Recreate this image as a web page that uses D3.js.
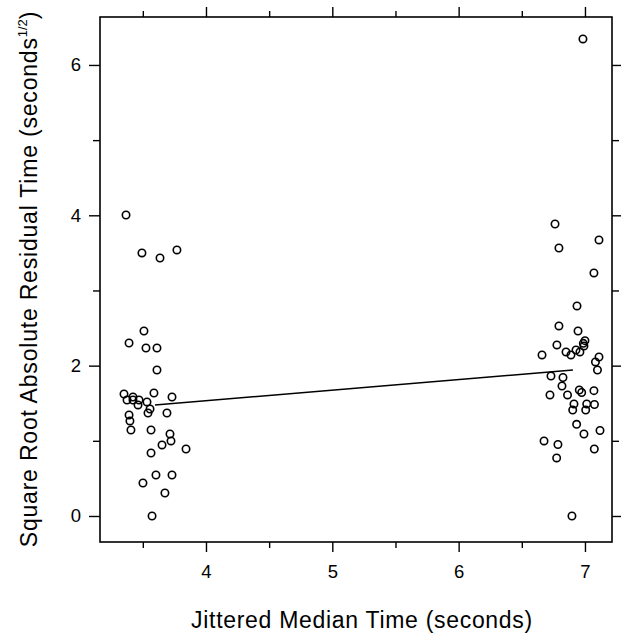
<!DOCTYPE html>
<html><head><meta charset="utf-8">
<script src="https://cdn.jsdelivr.net/npm/d3@7"></script>
<style>body{margin:0;background:#fff}svg{display:block}text{font-family:"Liberation Sans",Arial,sans-serif;fill:#000}</style>
</head><body>
<svg id="c" width="628" height="634"></svg>
<script>
const leftX = [3.367,3.493,3.636,3.770,3.509,3.391,3.525,3.612,3.612,3.588,3.731,3.351,3.375,3.422,3.422,3.470,3.462,3.533,3.557,3.541,3.691,3.391,3.398,3.406,3.565,3.715,3.723,3.652,3.842,3.565,3.604,3.731,3.501,3.675,3.573];
const leftY = [4.004,3.499,3.432,3.539,2.461,2.301,2.235,2.235,1.942,1.636,1.583,1.623,1.543,1.583,1.543,1.543,1.477,1.517,1.423,1.370,1.370,1.344,1.264,1.144,1.144,1.091,0.998,0.945,0.891,0.838,0.545,0.545,0.439,0.306,0.000];
const rightX = [6.984,6.763,7.111,6.794,7.071,6.937,6.794,6.945,7.000,6.987,6.992,6.778,6.660,6.850,6.889,6.929,6.960,7.111,7.083,7.099,6.731,6.826,6.818,6.723,6.862,6.955,6.974,7.071,6.913,6.903,7.014,7.006,7.075,6.934,7.119,6.992,6.676,6.786,7.074,6.776,6.897];
const rightY = [6.346,3.884,3.672,3.565,3.233,2.794,2.528,2.461,2.332,2.297,2.262,2.275,2.142,2.182,2.142,2.208,2.182,2.115,2.049,1.942,1.862,1.842,1.729,1.610,1.610,1.676,1.643,1.667,1.490,1.410,1.490,1.410,1.483,1.220,1.137,1.091,0.998,0.951,0.891,0.772,0.000];
const lineX = [3.596, 6.905];
const lineY = [1.477, 1.942];
const xTicks = [4,5,6,7];
const xMinor = [3.5,4.5,5.5,6.5];
const yTicks = [0,2,4,6];
const yMinor = [1,3,5];
const xTitle = "Jittered Median Time (seconds)";
const yTitle = "Square Root Absolute Residual Time (seconds";

const svg = d3.select("#c");
const L=100,R=612,T=17,B=542;
const x = d3.scaleLinear().domain([3.161,7.214]).range([L,R]);
const y = d3.scaleLinear().domain([-0.346,6.638]).range([B,T]);

svg.append("rect").attr("x",L).attr("y",T).attr("width",R-L).attr("height",B-T)
  .attr("fill","none").attr("stroke","#000").attr("stroke-width",1.6);

function axis(gen, ticks, size, tx, ty, labels){
  const g = svg.append("g").attr("transform",`translate(${tx},${ty})`)
    .call(gen.tickValues(ticks).tickSize(size).tickSizeOuter(0).tickFormat(labels?d3.format("d"):""));
  g.select(".domain").remove();
  g.selectAll(".tick line").attr("stroke","#000").attr("stroke-width",1.4);
  g.selectAll(".tick text").attr("font-size",18.5).attr("fill","#000");
  return g;
}
const bx = axis(d3.axisBottom(x), xTicks, 10, 0, B, true);
bx.selectAll(".tick text").attr("y",36).attr("dy",0);
axis(d3.axisBottom(x), xMinor, 6, 0, B, false);
axis(d3.axisTop(x), xTicks, 10, 0, T, false);
axis(d3.axisTop(x), xMinor, 6, 0, T, false);
const ly = axis(d3.axisLeft(y), yTicks, 11, L, 0, true);
ly.selectAll(".tick text").attr("x",-19);
axis(d3.axisLeft(y), yMinor, 7, L, 0, false);
axis(d3.axisRight(y), yTicks, 9, R, 0, false);
axis(d3.axisRight(y), yMinor, 7, R, 0, false);

const pts = leftX.map((v,i)=>[v,leftY[i]]).concat(rightX.map((v,i)=>[v,rightY[i]]));
svg.append("g").selectAll("circle").data(pts).join("circle")
  .attr("cx",d=>x(d[0])).attr("cy",d=>y(d[1])).attr("r",3.7)
  .attr("fill","none").attr("stroke","#000").attr("stroke-width",1.6);

svg.append("path").datum(lineX.map((v,i)=>[v,lineY[i]]))
  .attr("d",d3.line().x(d=>x(d[0])).y(d=>y(d[1])))
  .attr("stroke","#000").attr("stroke-width",1.5).attr("fill","none");

svg.append("text").attr("x",362).attr("y",628).attr("text-anchor","middle")
  .attr("font-size",23).attr("letter-spacing",0.7).text(xTitle);

const yt = svg.append("text").attr("transform",`translate(37,279) rotate(-90)`)
  .attr("text-anchor","middle").attr("font-size",23).attr("letter-spacing",0.8);
yt.append("tspan").text(yTitle);
yt.append("tspan").attr("font-size",13).attr("dy",-10).attr("letter-spacing",0).text("1/2");
yt.append("tspan").attr("dy",10).text(")");
</script>
</body></html>
